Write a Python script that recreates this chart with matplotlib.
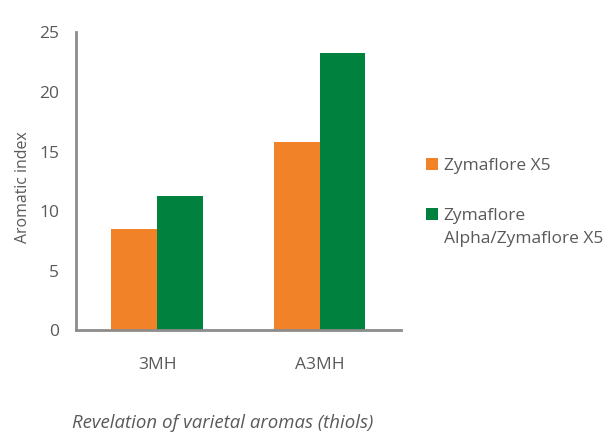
import matplotlib
matplotlib.use("Agg")
import matplotlib.pyplot as plt
import numpy as np

# 데이터
categories = ["3MH", "A3MH"]
x5 = [8.55, 15.8]
alpha_x5 = [11.25, 23.3]
series_labels = ["Zymaflore X5", "Zymaflore", "Alpha/Zymaflore X5"]
yticks = [0, 5, 10, 15, 20, 25]

ORANGE = "#F28227"
GREEN = "#00823E"
GREY_TXT = "#595959"
AXIS = "#8C8C8C"

plt.rcParams["font.family"] = ["Open Sans", "DejaVu Sans"]

fig = plt.figure(figsize=(6.05, 4.32), dpi=100)
ax = fig.add_axes([0.1256, 0.235, 0.5367, 0.69])

x = np.arange(len(categories))
w = 0.283
ax.bar(x - w / 2, x5, w, color=ORANGE, label=series_labels[0])
ax.bar(x + w / 2, alpha_x5, w, color=GREEN, label=series_labels[1])

ax.set_xlim(-0.5, 1.5)
ax.set_ylim(0, 25)
ax.set_yticks(yticks)
ax.set_xticks(x, categories)
ax.tick_params(axis="both", length=0, labelsize=12.5, colors=GREY_TXT)
ax.tick_params(axis="y", pad=12)
ax.tick_params(axis="x", pad=19)
for s in ["top", "right"]:
    ax.spines[s].set_visible(False)
for s in ["left", "bottom"]:
    ax.spines[s].set_color(AXIS)
    ax.spines[s].set_linewidth(2)
ax.set_ylabel("Aromatic index", fontsize=11.4, color=GREY_TXT)
ax.yaxis.set_label_coords(-0.14, 0.48)

leg = ax.legend(loc="upper left", bbox_to_anchor=(1.057, 0.603), frameon=False,
                fontsize=12.5, labelcolor=GREY_TXT, handlelength=0.7,
                handleheight=0.7, handletextpad=0.3, labelspacing=1.95,
                borderaxespad=0)

# 두 번째 범례 항목의 둘째 줄 (핸들은 첫 줄에 맞춤)
fig.canvas.draw()
t2 = leg.get_texts()[1]
bb = t2.get_window_extent()
fig.text(bb.x0 / fig.bbox.width, (bb.y0 - 19) / fig.bbox.height,
         series_labels[2], fontsize=12.5, color=GREY_TXT)

fig.text(0.119, 0.009, "Revelation of varietal aromas (thiols)", fontsize=13.4,
         style="italic", color=GREY_TXT)

fig.savefig("out.png", dpi=100)
